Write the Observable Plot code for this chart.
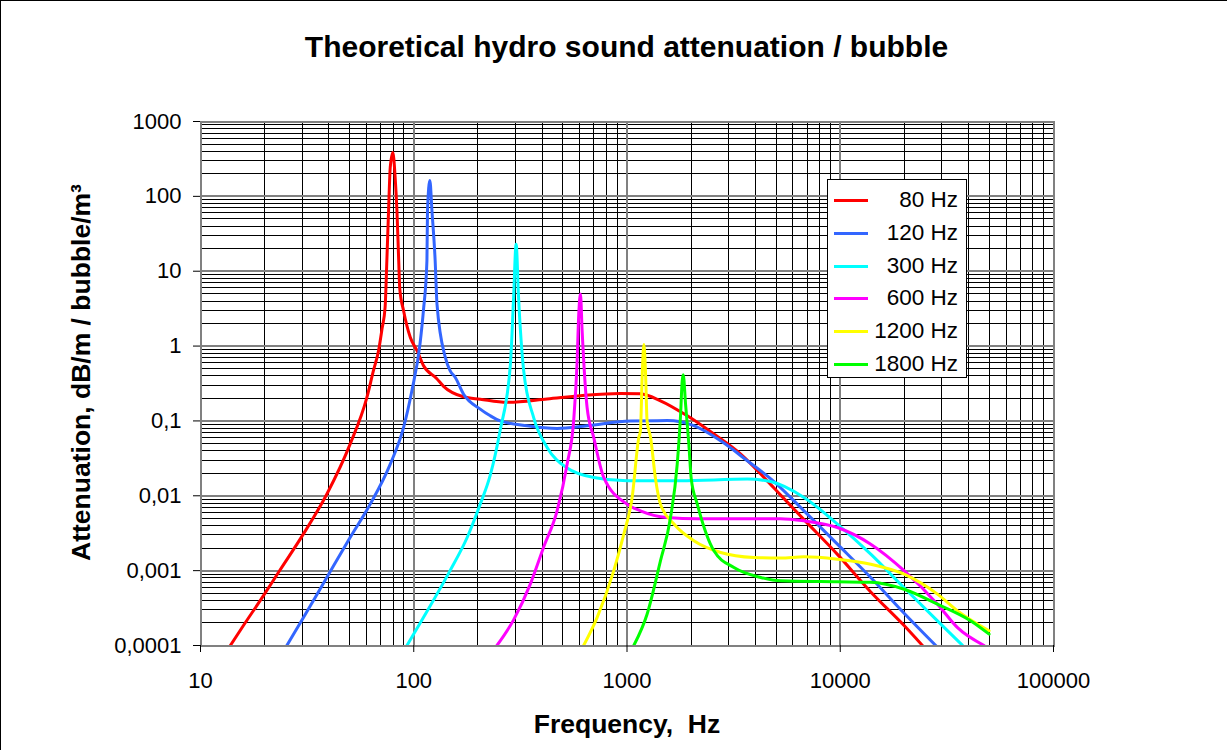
<!DOCTYPE html>
<html>
<head>
<meta charset="utf-8">
<script src="https://cdn.jsdelivr.net/npm/d3@7"></script>
<script src="https://cdn.jsdelivr.net/npm/@observablehq/plot@0.6"></script>
<style>
  body { margin: 0; background: #fff; }
  #wrap { position: relative; width: 1227px; height: 750px; overflow: hidden; background: #fff;
          font-family: "Liberation Sans", Arial, sans-serif; color: #000; }
  #border { position: absolute; left: 0; top: 0; width: 1227px; height: 750px; box-sizing: border-box;
            border-left: 1px solid #000; border-top: 1px solid #000; pointer-events: none; }
  #title { width: 1253px; height: 80px; box-sizing: border-box; padding-top: 32px; line-height: 30px;
           font-size: 30px; font-weight: bold; text-align: center; white-space: nowrap; }
  #legend { position: absolute; left: 827px; top: 179px; width: 140px; height: 199px; box-sizing: border-box;
            border: 1px solid #000; background: #fff; }
  .lg-line { position: absolute; left: 6px; width: 34px; height: 3px; }
  .lg-text { position: absolute; right: 8px; height: 26px; line-height: 26px; font-size: 22.5px; white-space: nowrap; }
  svg { display: block; }
</style>
</head>
<body>
<div id="wrap">
  <div id="title"></div>
  <div id="chart"></div>
  <div id="legend"></div>
  <div id="border"></div>
</div>
<script>
const titleText = "Theoretical hydro sound attenuation / bubble";
const xLabel = "Frequency,\u00a0 Hz";
const yLabel = "Attenuation, dB/m / bubble/m³";

const seriesNames = ["80 Hz", "120 Hz", "300 Hz", "600 Hz", "1200 Hz", "1800 Hz"];
const seriesColors = ["#ff0000", "#3366ff", "#00ffff", "#ff00ff", "#ffff00", "#00ff00"];

const xTicks = [10, 100, 1000, 10000, 100000];
const xTickLabels = ["10", "100", "1000", "10000", "100000"];
const yTicks = [0.0001, 0.001, 0.01, 0.1, 1, 10, 100, 1000];
const yTickLabels = ["0,0001", "0,001", "0,01", "0,1", "1", "10", "100", "1000"];

// 80 Hz bubble
const f80 = [13.8, 15.9, 19.7, 23.6, 30.4, 39.1, 50.3, 60.3, 64.7, 68.4, 71, 73.4, 74.8, 76.2, 77.6, 79.8, 81.8, 83.4, 85, 86, 89.6, 96.3, 104, 111, 128, 138, 171, 205, 274, 422, 605, 931, 1156, 1435, 1918, 2556, 3414, 4500, 5256, 6761, 9700, 13900, 19930, 24300];
const a80 = [1e-4, 1.85e-4, 4.6e-4, 1.02e-3, 3.1e-3, 1.05e-2, 4.9e-2, 0.206, 0.469, 0.87, 1.7, 3.3, 13.9, 64.6, 245, 385, 180, 64.6, 13.9, 5.8, 2.97, 1.31, 0.85, 0.55, 0.37, 0.29, 0.21, 0.195, 0.177, 0.196, 0.217, 0.233, 0.23, 0.186, 0.117, 0.0668, 0.036, 0.0163, 0.0102, 4.8e-3, 1.65e-3, 5.2e-4, 1.85e-4, 1e-4];
// 120 Hz bubble
const f120 = [25.4, 30.4, 39.1, 50.3, 62.5, 77.6, 89.6, 98, 107, 111, 115.3, 116, 119, 121.7, 126, 128.5, 140.6, 148, 156.6, 171, 205, 228.6, 254.5, 340, 470, 650, 1039, 1545, 2058, 2748, 3666, 4800, 6761, 9700, 13900, 19930, 28050];
const a120 = [1e-4, 2.36e-4, 8.1e-4, 2.77e-3, 7.74e-3, 2.65e-2, 8.2e-2, 0.253, 1.07, 2.97, 13.9, 64.6, 163, 64.6, 13.9, 3.66, 0.706, 0.47, 0.38, 0.229, 0.144, 0.117, 0.1, 0.0863, 0.0794, 0.0863, 0.1, 0.101, 0.0863, 0.0543, 0.0294, 0.0162, 6.3e-3, 2.26e-3, 8.1e-4, 2.7e-4, 1e-4];
// 300 Hz bubble
const f300 = [92.9, 111, 148, 178, 205, 228.6, 254, 284, 294, 302, 310, 327.7, 365, 422, 524, 698, 1000, 1783, 3666, 4710, 6761, 9700, 13900, 19930, 28570, 37470];
const a300 = [1e-4, 2.36e-4, 1e-3, 2.77e-3, 7.74e-3, 0.019, 0.074, 0.576, 4.5, 23, 4.5, 0.469, 0.111, 0.0442, 0.0235, 0.0176, 0.0159, 0.0159, 0.0167, 0.0155, 9.5e-3, 4.19e-3, 1.66e-3, 5.9e-4, 2.13e-4, 1e-4];
// 600 Hz bubble
const f600 = [245.5, 294, 352, 406, 470, 524, 562, 583, 594, 605, 616, 650, 698, 778, 1000, 1156, 1545, 2136, 3414, 5256, 6761, 9700, 13900, 19930, 28570, 35480, 47300];
const a600 = [1e-4, 2.2e-4, 6.6e-4, 2.04e-3, 6.3e-3, 0.0265, 0.1, 0.576, 2.69, 4.97, 1.61, 0.151, 0.0602, 0.0176, 7.74e-3, 6.3e-3, 5.13e-3, 4.94e-3, 4.94e-3, 4.94e-3, 4.63e-3, 3.77e-3, 2.26e-3, 1e-3, 3.57e-4, 1.73e-4, 1e-4];
// 1200 Hz bubble
const f1200 = [626, 724, 867, 966, 1057, 1136, 1156, 1179, 1200, 1222, 1242, 1290, 1361, 1435, 1660, 2058, 2748, 3936, 5256, 6761, 9700, 13900, 19930, 28570, 35480, 49900];
const a1200 = [1e-4, 2.36e-4, 1e-3, 3.07e-3, 9.5e-3, 0.0602, 0.074, 0.424, 1.05, 0.424, 0.1, 0.06, 0.0167, 7.74e-3, 4.19e-3, 2.51e-3, 1.75e-3, 1.5e-3, 1.47e-3, 1.53e-3, 1.42e-3, 1.22e-3, 8.97e-4, 4.85e-4, 2.9e-4, 1.57e-4];
// 1800 Hz bubble
const f1800 = [1076, 1242, 1435, 1600, 1720, 1783, 1815, 1835, 1882, 1950, 2002, 2136, 2556, 3172, 4235, 5256, 9700, 13900, 19930, 28570, 41000, 49900];
const a1800 = [1e-4, 2.62e-4, 1.35e-3, 5.13e-3, 0.0265, 0.12, 0.344, 0.415, 0.168, 0.049, 0.0167, 7.74e-3, 1.84e-3, 1.1e-3, 8.1e-4, 7.3e-4, 7.1e-4, 7e-4, 5.65e-4, 3.57e-4, 2.13e-4, 1.42e-4];

const freqs = [f80, f120, f300, f600, f1200, f1800];
const atts = [a80, a120, a300, a600, a1200, a1800];

const data = seriesNames.flatMap((s, k) => freqs[k].map((f, i) => ({series: s, f, a: atts[k][i]})));

// grid positions (log grid: decades and 2..9 sub-steps)
const decadesX = d3.range(1, 6).map(e => 10 ** e);
const decadesY = d3.range(-4, 4).map(e => 10 ** e);
const minorX = d3.range(1, 5).flatMap(e => d3.range(2, 10).map(k => k * 10 ** e));
const minorY = d3.range(-4, 3).flatMap(e => d3.range(2, 10).map(k => k * 10 ** e));

const xFmt = new Map(xTicks.map((v, i) => [v, xTickLabels[i]]));
const yFmt = new Map(yTicks.map((v, i) => [v, yTickLabels[i]]));

const chart = Plot.plot({
  width: 1227,
  height: 670,
  marginLeft: 200,
  marginRight: 174,
  marginTop: 41,
  marginBottom: 105,
  style: {fontFamily: "'Liberation Sans', Arial, sans-serif", fontSize: "22px", color: "#000", background: "transparent", overflow: "visible"},
  x: {type: "log", domain: [10, 100000]},
  y: {type: "log", domain: [1e-4, 1000]},
  color: {domain: seriesNames, range: seriesColors},
  marks: [
    Plot.ruleX(minorX, {stroke: "#000", strokeWidth: 1, shapeRendering: "crispEdges"}),
    Plot.ruleY(minorY, {stroke: "#000", strokeWidth: 1, shapeRendering: "crispEdges"}),
    Plot.ruleX(decadesX, {stroke: "#808080", strokeWidth: 2, shapeRendering: "crispEdges"}),
    Plot.ruleY(decadesY, {stroke: "#808080", strokeWidth: 2, shapeRendering: "crispEdges"}),
    Plot.frame({stroke: "#808080", strokeWidth: 2, shapeRendering: "crispEdges"}),
    Plot.axisX(xTicks, {tickFormat: d => xFmt.get(d), tickSize: 7, tickPadding: 20, label: null, fontSize: 22, stroke: "#000"}),
    Plot.axisY(yTicks, {tickFormat: d => yFmt.get(d), tickSize: 7, tickPadding: 12, label: null, fontSize: 22, stroke: "#000"}),
    Plot.line(data, {x: "f", y: "a", z: "series", stroke: "series", strokeWidth: 3, curve: "monotone-x", clip: true}),
    Plot.text([xLabel], {frameAnchor: "bottom", text: d => d, dy: 87, lineAnchor: "bottom", fontSize: 26.5, fontWeight: "bold"}),
    Plot.text([yLabel], {frameAnchor: "left", text: d => d, rotate: -90, dx: -111, dy: -11, lineAnchor: "bottom", textAnchor: "middle", fontSize: 26.5, fontWeight: "bold"})
  ]
});

document.getElementById("chart").appendChild(chart);
document.getElementById("title").textContent = titleText;

const legend = document.getElementById("legend");
const rowCenters = [20, 53, 86, 118, 151, 184];
seriesNames.forEach((name, i) => {
  const line = document.createElement("div");
  line.className = "lg-line";
  line.style.top = (rowCenters[i] - 1.5) + "px";
  line.style.background = seriesColors[i];
  legend.appendChild(line);
  const t = document.createElement("div");
  t.className = "lg-text";
  t.style.top = (rowCenters[i] - 13) + "px";
  t.textContent = name;
  legend.appendChild(t);
});
</script>
</body>
</html>
